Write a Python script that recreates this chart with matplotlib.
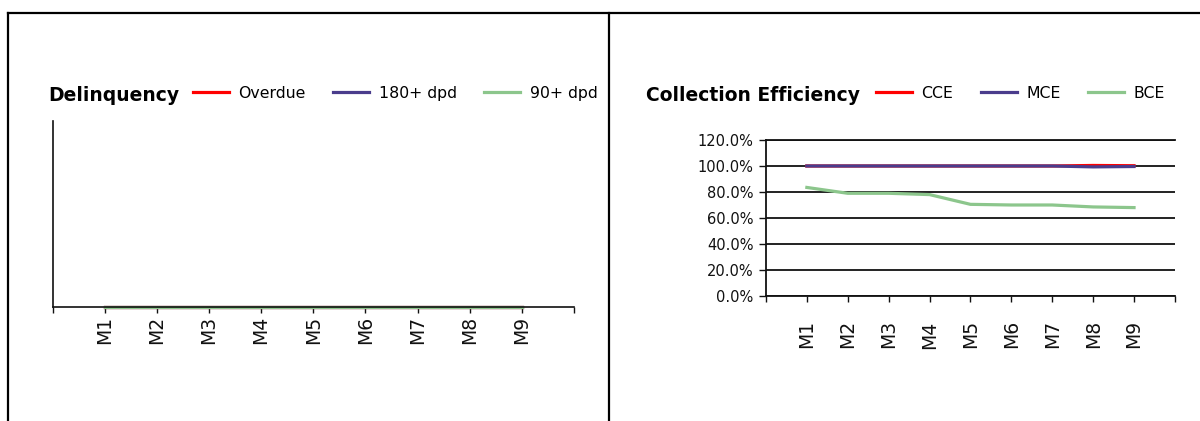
import matplotlib
matplotlib.use("Agg")
import matplotlib.pyplot as plt
from matplotlib.lines import Line2D

months = ["M1", "M2", "M3", "M4", "M5", "M6", "M7", "M8", "M9"]

# delinquency (all flat at zero)
overdue = [0, 0, 0, 0, 0, 0, 0, 0, 0]
dpd180 = [0, 0, 0, 0, 0, 0, 0, 0, 0]
dpd90 = [0, 0, 0, 0, 0, 0, 0, 0, 0]

# collection efficiency, %
cce = [100, 100, 100, 100, 100, 100, 100, 100.4, 100.2]
mce = [100, 100, 100, 100, 100, 100, 100, 99.3, 99.6]
bce = [83.5, 79, 79, 78, 70.5, 70, 70, 68.5, 68]
ce_ticks = [0, 20, 40, 60, 80, 100, 120]

RED = "#ff0000"
BLUE = "#4a3c8c"
GREEN = "#8cc68c"
INK = "#111111"

plt.rcParams["font.family"] = ["DejaVu Sans"]

fig = plt.figure(figsize=(12, 4.21), dpi=100)

# table borders
for x0, y0, x1, y1 in [(0.0067, 0.9703, 1.0, 0.9703),
                       (0.0067, 0.0, 0.0067, 0.9703),
                       (0.5075, 0.0, 0.5075, 0.9703)]:
    fig.add_artist(Line2D([x0, x1], [y0, y1], color="black", lw=1.6,
                          transform=fig.transFigure))

xs = list(range(1, len(months) + 1))
lw = 2.3

# ---- Delinquency
ax1 = fig.add_axes([0.04375, 0.2708, 0.4346, 0.4418])
ax1.plot(xs, overdue, color=RED, lw=lw, label="Overdue", clip_on=False)
ax1.plot(xs, dpd180, color=BLUE, lw=lw, label="180+ dpd", clip_on=False)
ax1.plot(xs, dpd90, color=GREEN, lw=lw, label="90+ dpd", clip_on=False)
ax1.set_xlim(0, 10)
ax1.set_ylim(0, 1)
ax1.set_yticks([])
ax1.set_xticks(xs)
ax1.set_xticklabels(months, rotation=90, fontsize=13.5, color=INK)
ax1.set_xticks([0, 10], minor=True)
ax1.tick_params(axis="x", which="both", direction="out", length=4.5,
                width=1, color=INK, pad=2)
ax1.spines["top"].set_visible(False)
ax1.spines["right"].set_visible(False)
for s in ["left", "bottom"]:
    ax1.spines[s].set_linewidth(1.2)
    ax1.spines[s].set_color(INK)

fig.text(0.040, 0.7601, "Delinquency", fontsize=13.5, fontweight="bold",
         va="baseline", ha="left")
h, l = ax1.get_legend_handles_labels()
fig.legend(h, l, loc="center left", bbox_to_anchor=(0.1608, 0.7784),
           ncol=3, frameon=False, fontsize=11.3, handlelength=2.3,
           handletextpad=0.6, columnspacing=1.75, borderpad=0,
           borderaxespad=0)

# ---- Collection Efficiency
ax2 = fig.add_axes([0.6383, 0.2969, 0.3408, 0.3706])
ax2.plot(xs, cce, color=RED, lw=lw, label="CCE")
ax2.plot(xs, mce, color=BLUE, lw=lw, label="MCE")
ax2.plot(xs, bce, color=GREEN, lw=lw, label="BCE")
ax2.set_xlim(0, 10)
ax2.set_ylim(0, 120)
ax2.set_yticks(ce_ticks)
ax2.set_yticklabels([f"{v:.1f}%" for v in ce_ticks], fontsize=10.5, color=INK)
ax2.yaxis.grid(True, color=INK, lw=1.3)
ax2.set_axisbelow(True)
ax2.set_xticks(xs)
ax2.set_xticklabels(months, rotation=90, fontsize=13.5, color=INK)
ax2.set_xticks([0, 10], minor=True)
ax2.tick_params(axis="x", which="both", direction="out", length=4.5,
                width=1, color=INK, pad=13)
ax2.tick_params(axis="y", direction="out", length=5, width=1, color=INK,
                pad=4)
ax2.spines["right"].set_visible(False)
for s in ["left", "bottom", "top"]:
    ax2.spines[s].set_linewidth(1.3)
    ax2.spines[s].set_color(INK)

fig.text(0.5383, 0.7601, "Collection Efficiency", fontsize=13.5,
         fontweight="bold", va="baseline", ha="left")
h, l = ax2.get_legend_handles_labels()
fig.legend(h, l, loc="center left", bbox_to_anchor=(0.73, 0.7784),
           ncol=3, frameon=False, fontsize=11.3, handlelength=2.3,
           handletextpad=0.6, columnspacing=1.75, borderpad=0,
           borderaxespad=0)

fig.savefig("out.png", dpi=100, facecolor="white")
